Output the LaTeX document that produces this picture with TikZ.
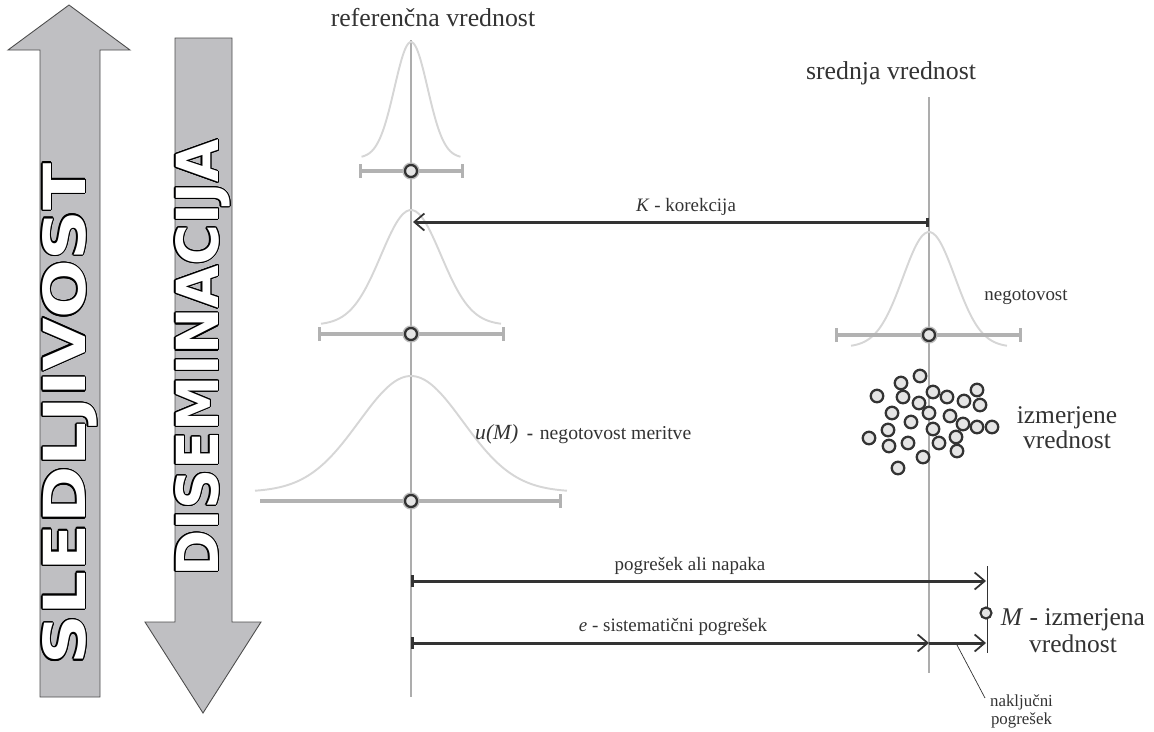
\documentclass[tikz,border=0pt]{standalone}
\usepackage{fontspec}
\usepackage{contour}
\usepackage{tikz}
\usetikzlibrary{arrows.meta}
\setmainfont{Liberation Serif}
\newfontfamily\arrowfont{DejaVu Sans}
\definecolor{arrowfill}{rgb}{0.75,0.75,0.76}
\definecolor{axisgray}{gray}{0.68}
\definecolor{bellgray}{gray}{0.84}
\definecolor{bargray}{gray}{0.70}
\definecolor{halogray}{gray}{0.74}
\definecolor{ink}{gray}{0.2}
\definecolor{dotfill}{gray}{0.9}
\contourlength{0.6pt}

\begin{document}
\begin{tikzpicture}[x=0.02cm,y=-0.02cm,
		barb/.tip={Straight Barb[length=2mm,width=3.4mm,line width=1pt]},
		bigarrow/.style={fill=arrowfill,draw=black!70,line width=0.5pt},
		axis/.style={draw=axisgray,line width=0.6pt},
		bellcurve/.style={draw=bellgray,line width=1.1pt},
		errbar/.style={draw=bargray,line width=1.8pt},
		marker/.style={circle,draw=ink,fill=dotfill,line width=1.3pt,inner sep=0pt,minimum size=0.24cm},
		halo/.style={preaction={draw=halogray,line width=3pt}},
		dot/.style={circle,draw=ink,fill=dotfill,line width=1.3pt,inner sep=0pt,minimum size=0.25cm},
		measure/.style={draw=ink,line width=1.7pt},
		big/.style={font=\fontsize{14.7}{17}\selectfont,text=ink},
		mid/.style={font=\fontsize{10.8}{13}\selectfont,text=ink},
		small/.style={font=\fontsize{9.6}{9.9}\selectfont,text=ink},
		bigword/.style={rotate=90,inner sep=0pt,text=white}]
	\useasboundingbox (0,0) rectangle (1154,731);

	% the two big arrows on the left
	\draw[bigarrow] (40,697) -- (40,50) -- (8,50) -- (69,5) -- (130,50) -- (100,50) -- (100,697) -- cycle;
	\draw[bigarrow] (175,38) -- (175,622) -- (145,622) -- (203,713) -- (261,622) -- (232,622) -- (232,38) -- cycle;
	\node[bigword] (sled) at (70,414) {\resizebox{10.04cm}{0.86cm}{\arrowfont\bfseries\fontsize{30}{30}\selectfont\contour{black}{SLEDLJIVOST}}};
	\node[bigword] (disem) at (203,358) {\resizebox{8.74cm}{0.86cm}{\arrowfont\bfseries\fontsize{30}{30}\selectfont\contour{black}{DISEMINACIJA}}};

	% vertical reference lines
	\coordinate (refTop) at (411,40);
	\coordinate (refBot) at (411,697);
	\coordinate (meanTop) at (929,97);
	\coordinate (meanBot) at (929,673);
	\coordinate (mTop) at (987,566);
	\coordinate (mBot) at (987,653);
	\draw[axis] (refTop) -- (refBot);
	\draw[axis] (meanTop) -- (meanBot);
	\draw[black!80,line width=0.5pt] (mTop) -- (mBot);

	% bell curves: centre / base / sigma / height
	\foreach \cx/\base/\sg/\ht in {411/158/16.5/116, 411/325/30/115, 411/492/52/116, 929/347/26/115}
		\draw[bellcurve] plot[domain=-3:3,samples=60,smooth] ({\cx+\sg*\x},{\base-\ht*exp(-\x*\x/2)});

	% uncertainty bars
	\draw[errbar,{Bar[width=2.8mm]}-{Bar[width=2.8mm]}] (359,171) -- (464,171);
	\draw[errbar,{Bar[width=2.8mm]}-{Bar[width=2.8mm]}] (318,334) -- (505,334);
	\draw[errbar,-{Bar[width=2.8mm]}] (260,501) -- (562,501);
	\draw[errbar,{Bar[width=2.8mm]}-{Bar[width=2.8mm]}] (835,335) -- (1022,335);
	\node[marker,halo] (m1) at (411,171) {};
	\node[marker,halo] (m2) at (411,334) {};
	\node[marker,halo] (m3) at (411,501) {};
	\node[marker,halo] (m4) at (929,335) {};

	% scattered measured values
	\foreach \px/\py [count=\i] in {920/376, 901/383, 877/396, 903/397, 933/392, 947/397, 964/401,
			977/390, 980/405, 919/403, 892/413, 929/413, 950/416, 963/424, 977/427, 992/427,
			911/422, 888/430, 933/429, 869/438, 956/437, 889/446, 908/443, 939/443, 957/451,
			923/457, 898/468}
		\node[dot] (d\i) at (\px,\py) {};

	% titles
	\node[big] (refLbl) at (433,18) {referenčna vrednost};
	\node[big] (meanLbl) at (891,73) {srednja vrednost};

	% correction
	\coordinate (kR) at (929,222);
	\coordinate (kL) at (413,222);
	\draw[measure,{Bar[width=1.8mm]}-barb] (kR) -- (kL);
	\node[mid] (kLbl) at (686,207) {\textit{K} - korekcija};

	\node[mid] (negLbl) at (1026,297) {negotovost};
	\node[mid,anchor=west] (uLbl) at (469,434) {{\fontsize{12.3}{14}\selectfont\textit{u(M)}}\hspace{0.45em}\textbf{-}\hspace{0.35em}{\fontsize{11.2}{13}\selectfont negotovost meritve}};
	\node[big,align=center,font=\fontsize{14.5}{12.2}\selectfont] (measLbl) at (1067,428) {izmerjene\\vrednost};

	% errors of the measurement M
	\coordinate (eL1) at (411,581);
	\coordinate (eR1) at (986,581);
	\coordinate (eL2) at (411,643);
	\coordinate (eM2) at (929,643);
	\coordinate (eR2) at (986,643);
	\draw[measure,{Bar[width=2.4mm]}-barb] (eL1) -- (eR1);
	\draw[measure,{Bar[width=2.4mm]}-barb] (eL2) -- (eM2);
	\draw[measure,-barb] (eM2) -- (eR2);
	\node[mid] (errLbl) at (690,566) {pogrešek ali napaka};
	\node[mid] (sysLbl) at (673,627) {\textit{e} - sistematični pogrešek};

	\node[circle,draw=ink,fill=dotfill,line width=1.2pt,inner sep=0pt,minimum size=0.22cm] (M) at (986,613) {};
	\node[big,align=center,font=\fontsize{14.5}{15.5}\selectfont] (mLbl) at (1073,631) {\textit{M} - izmerjena\\vrednost};

	% leader to the random error
	\coordinate (rndPt) at (957,645);
	\coordinate (rndEnd) at (985,698);
	\node[small,align=center,anchor=north west,inner sep=1pt] (rndLbl) at (988,693) {naključni\\pogrešek};
	\draw[black!80,line width=0.4pt] (rndPt) -- (rndEnd);
\end{tikzpicture}
\end{document}
